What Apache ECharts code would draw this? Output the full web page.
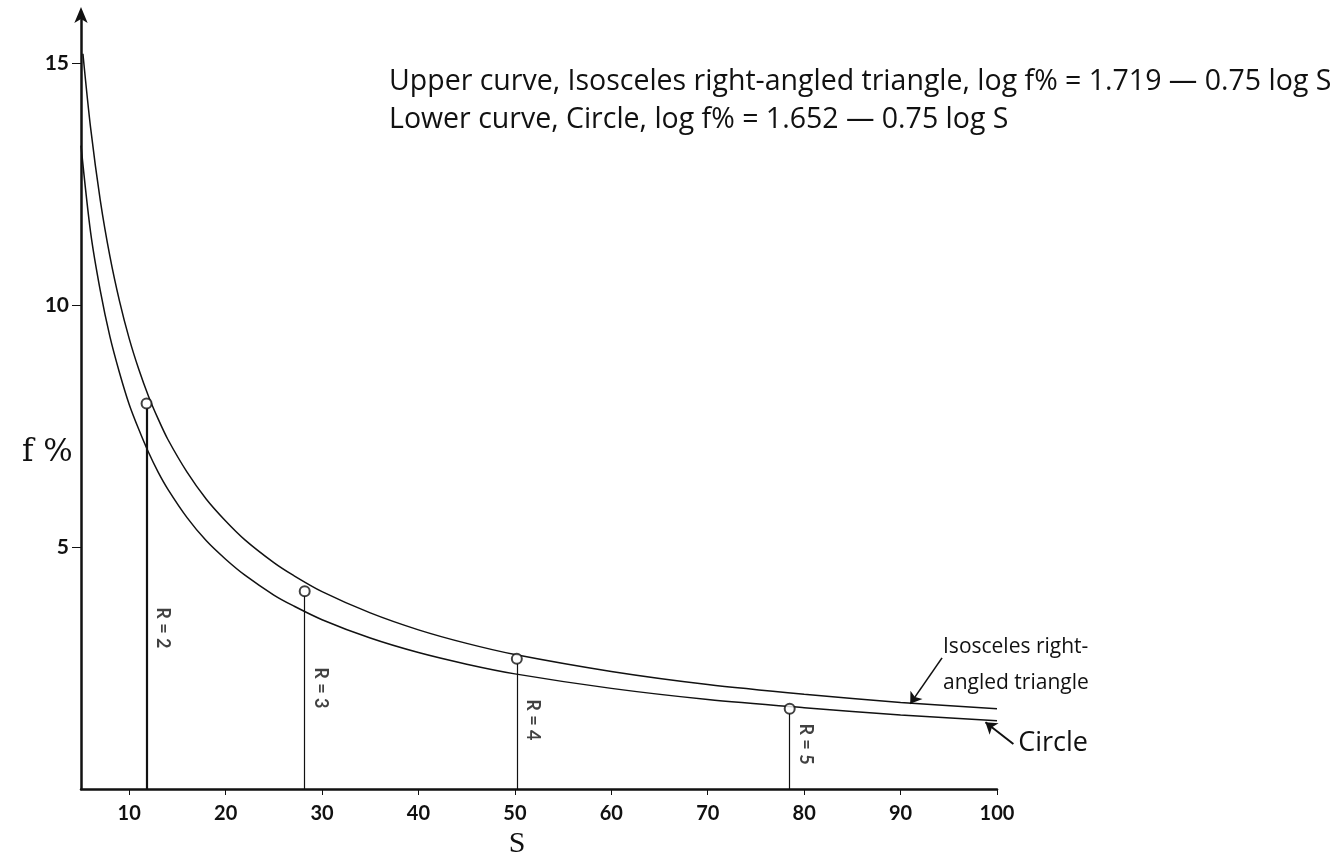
<!DOCTYPE html>
<html>
<head>
<meta charset="utf-8">
<script src="https://cdn.jsdelivr.net/npm/echarts@6/dist/echarts.min.js"></script>
<style>html,body{margin:0;padding:0;background:#fff;overflow:hidden}#c{width:1344px;height:852px}</style>
</head>
<body>
<div id="c"></div>
<script>
// ---- data ----
const xTicks = [10, 20, 30, 40, 50, 60, 70, 80, 90, 100];
const yTicks = [5, 10, 15];
const upperS = [5.2, 6, 7, 8, 9, 10, 11, 12, 13, 14, 16, 18, 20, 22, 25, 27, 30, 35, 40, 45, 50, 60, 70, 80, 90, 100];
const upperF = [15.2, 13.66, 12.17, 11.01, 10.08, 9.31, 8.67, 8.12, 7.65, 7.23, 6.55, 5.99, 5.54, 5.15, 4.68, 4.42, 4.08, 3.64, 3.29, 3.01, 2.78, 2.43, 2.16, 1.96, 1.79, 1.66];
const lowerS = [5, 6, 7, 8, 9, 10, 11, 12, 13, 14, 16, 18, 20, 22, 25, 27, 30, 35, 40, 45, 50, 60, 70, 80, 90, 100];
const lowerF = [13.3, 11.5, 10.3, 9.35, 8.6, 7.95, 7.43, 6.96, 6.55, 6.2, 5.61, 5.13, 4.75, 4.42, 4.01, 3.79, 3.5, 3.12, 2.82, 2.58, 2.38, 2.08, 1.85, 1.68, 1.53, 1.41];
const rNames = ['R = 2', 'R = 3', 'R = 4', 'R = 5'];
const rS = [11.8, 28.2, 50.2, 78.5];
const rF = [7.97, 4.09, 2.69, 1.66];
const rLabelF = [3.33, 2.09, 1.43, 0.93];
const titleLines = [
  'Upper curve, Isosceles right-angled triangle, log f% = 1.719 \u2014 0.75 log S',
  'Lower curve, Circle, log f% = 1.652 \u2014 0.75 log S'
];
const triLabel = 'Isosceles right-\nangled triangle';
const triLabelAt = [94.4, 2.56];
const triArrow = [[94.3, 2.71], [91.0, 1.76]];
const circLabel = 'Circle';
const circLabelAt = [102.2, 0.95];
const circArrow = [[101.7, 0.93], [98.8, 1.38]];

const INK = '#111';
const FONT = 'Lato, "Open Sans", sans-serif';
const TFONT = '"Open Sans", Lato, sans-serif';

const chart = echarts.init(document.getElementById('c'), null, {renderer: 'canvas'});
chart.setOption({
  backgroundColor: '#fff',
  animation: false,
  title: {
    text: titleLines.join('\n'),
    left: 384, top: 58,
    textStyle: {fontFamily: TFONT, fontSize: 28.5, fontWeight: 'normal', color: INK, lineHeight: 38}
  },
  graphic: [{
    type: 'text', left: 22, top: 437,
    style: {text: 'f %', font: '31px "DejaVu Serif", serif', fill: INK}
  }],
  grid: {left: 81, right: 347, top: 15, bottom: 63, containLabel: false, outerBoundsMode: 'none'},
  xAxis: {
    type: 'value', min: 5, max: 100,
    name: 'S', nameLocation: 'middle', nameGap: 32,
    nameTextStyle: {fontFamily: '"Liberation Serif", serif', fontSize: 30, color: INK, padding: [0, 44, 0, 0]},
    axisLine: {lineStyle: {color: INK, width: 2.5}},
    axisTick: {show: true, customValues: xTicks, length: 6, lineStyle: {color: INK, width: 1}},
    axisLabel: {customValues: xTicks, margin: 15, fontFamily: FONT, fontSize: 20, fontWeight: 'bold', color: INK},
    splitLine: {show: false}
  },
  yAxis: {
    type: 'value', min: 0, max: 16,
    axisLine: {show: true, symbol: ['none', 'arrow'], symbolSize: [10, 16], symbolOffset: [0, 8], lineStyle: {color: INK, width: 2.5}},
    axisTick: {show: true, customValues: yTicks, length: 9, lineStyle: {color: INK, width: 1}},
    axisLabel: {customValues: yTicks, margin: 12, fontFamily: FONT, fontSize: 21, fontWeight: 'bold', color: INK},
    splitLine: {show: false}
  },
  series: [
    {
      id: 'upper', name: 'Isosceles right-angled triangle', type: 'line', smooth: 0.3,
      data: upperS.map((s, i) => [s, upperF[i]]),
      symbol: 'none', lineStyle: {color: INK, width: 1.5}, clip: false,
      markPoint: {
        symbol: 'circle', symbolSize: 0,
        data: [{coord: triLabelAt, value: triLabel}],
        label: {show: true, position: 'right', distance: 0, formatter: triLabel, fontFamily: TFONT, fontSize: 21, color: INK, lineHeight: 36, align: 'left'}
      },
      markLine: {
        silent: true, symbol: ['none', 'arrow'], symbolSize: 11,
        lineStyle: {color: INK, width: 1.6, type: 'solid', curveness: -0.25},
        label: {show: false},
        data: [[{coord: triArrow[0]}, {coord: triArrow[1]}]]
      }
    },
    {
      id: 'lower', name: 'Circle', type: 'line', smooth: 0.3,
      data: lowerS.map((s, i) => [s, lowerF[i]]),
      symbol: 'none', lineStyle: {color: INK, width: 1.5}, clip: false
    },
    {
      name: 'points', type: 'scatter',
      data: rS.map((s, i) => [s, rF[i]]),
      symbol: 'emptyCircle', symbolSize: 10,
      itemStyle: {color: INK, borderWidth: 1.5},
      z: 5,
      markLine: {
        silent: true, symbol: ['none', 'none'],
        label: {show: false},
        lineStyle: {color: INK, width: 1, type: 'solid'},
        data: rS.map((s, i) => [
          {coord: [s, 0], lineStyle: {width: i === 0 ? 2.2 : 1.2}},
          {coord: [s, rF[i] - 0.1]}
        ])
      }
    },
    {
      name: 'R labels', type: 'scatter',
      data: rS.map((s, i) => ({value: [s, rLabelF[i]], name: rNames[i]})),
      symbolSize: 0,
      label: {
        show: true, position: 'inside', rotate: -90, offset: [0, -16],
        formatter: p => p.name,
        fontFamily: FONT, fontSize: 18, fontWeight: 'bold', color: INK
      }
    }
  ]
});

// "Circle" label and its arrow sit just right of the axis end: place them through the axis scales
const px = v => chart.convertToPixel({gridIndex: 0}, v);
const cl = px(circLabelAt), ca0 = px(circArrow[0]), ca1 = px(circArrow[1]);
chart.setOption({
  series: [{
    id: 'lower',
    markPoint: {
      symbol: 'circle', symbolSize: 0,
      data: [{x: cl[0], y: cl[1], value: circLabel}],
      label: {show: true, position: 'right', distance: 0, formatter: circLabel, fontFamily: TFONT, fontSize: 27, color: INK, align: 'left'}
    },
    markLine: {
      silent: true, symbol: ['none', 'arrow'], symbolSize: 11,
      lineStyle: {color: INK, width: 2, type: 'solid', curveness: 0.15},
      label: {show: false},
      data: [[{x: ca0[0], y: ca0[1]}, {x: ca1[0], y: ca1[1]}]]
    }
  }]
});
</script>
</body>
</html>
